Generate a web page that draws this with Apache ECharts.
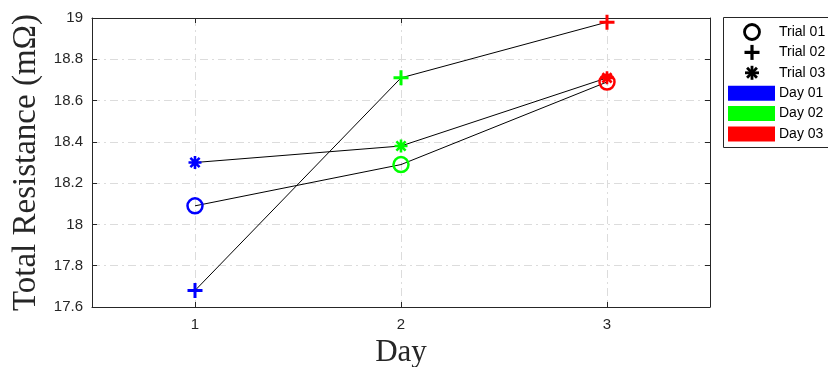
<!DOCTYPE html>
<html>
<head>
<meta charset="utf-8">
<style>
  html, body { margin: 0; padding: 0; background: #fff; }
  #chart { width: 828px; height: 367px; }
</style>
<script src="https://cdn.jsdelivr.net/npm/echarts@6/dist/echarts.min.js"></script>
</head>
<body>
<div id="chart"></div>
<script>
// Measurement days and total resistance (mΩ) per trial
const days = [1, 2, 3];
const dayLabels = ['Day 01', 'Day 02', 'Day 03'];
const dayColors = ['#0000ff', '#00ff00', '#ff0000'];
const trialNames = ['Trial 01', 'Trial 02', 'Trial 03'];
const trial01 = [18.09, 18.29, 18.69];
const trial02 = [17.68, 18.71, 18.98];
const trial03 = [18.30, 18.38, 18.71];
const yTicks = { min: 17.6, max: 19, step: 0.2 };

const AXIS = '#262626';
const GRIDLINE = '#dcdcdc';
const SANS = 'Liberation Sans, Arial, Helvetica, sans-serif';
const SERIF = 'Liberation Serif, Times New Roman, serif';

const markerShapes = {
  circle: 'circle',
  plus: 'path://M0,-10L0,10M-10,0L10,0',
  star: 'path://M0,-10L0,10M-10,0L10,0M-7.07,-7.07L7.07,7.07M-7.07,7.07L7.07,-7.07'
};

function trialSeries(name, values, shape, size, width) {
  return {
    name: name,
    type: 'line',
    data: values.map((v, i) => ({
      value: [days[i], v],
      itemStyle: { color: 'rgba(0,0,0,0)', borderColor: dayColors[i], borderWidth: width }
    })),
    symbol: markerShapes[shape],
    symbolSize: size,
    showSymbol: true,
    lineStyle: { color: '#000', width: 1 },
    emphasis: { disabled: true },
    animation: false,
    z: 3
  };
}

const tickStyle = { show: true, inside: true, length: 5, lineStyle: { color: AXIS, width: 1 } };
const axisLine = { show: true, lineStyle: { color: AXIS, width: 1 } };
const dashDot = { show: true, lineStyle: { color: GRIDLINE, width: 1, type: [8, 4, 2, 4] } };

const chart = echarts.init(document.getElementById('chart'));

// Boxed key: marker shapes for trials, colour swatches for days
const legendX = 723, legendY = 17, rowH = 20.4, firstRow = 32;
const legendItems = [];
legendItems.push({
  type: 'rect', shape: { x: legendX + 0.5, y: legendY + 0.5, width: 120, height: 130 },
  style: { fill: '#fff', stroke: AXIS, lineWidth: 1 }, z: 10
});
const mx = 752;
trialNames.forEach((t, i) => {
  const cy = firstRow + i * rowH;
  if (i === 0) {
    legendItems.push({ type: 'circle', shape: { cx: mx, cy: cy, r: 7.5 },
      style: { fill: 'none', stroke: '#000', lineWidth: 2.8 }, z: 11 });
  } else {
    const r = i === 1 ? 7.5 : 7;
    const arms = i === 1 ? [[0, 1]] : [[0, 1], [0.7071, 0.7071], [0.7071, -0.7071]];
    const segs = [[1, 0]].concat(arms);
    segs.forEach(([dx, dy]) => {
      legendItems.push({ type: 'line',
        shape: { x1: mx - dx * r, y1: cy - dy * r, x2: mx + dx * r, y2: cy + dy * r },
        style: { stroke: '#000', lineWidth: i === 1 ? 3.2 : 2.8 }, z: 11 });
    });
  }
  legendItems.push({ type: 'text', x: 779, y: cy,
    style: { text: t, fill: '#000', font: '14px ' + SANS, verticalAlign: 'middle' }, z: 11 });
});
dayLabels.forEach((d, i) => {
  const cy = firstRow + (i + 3) * rowH;
  legendItems.push({ type: 'rect', shape: { x: 728, y: cy - 7.5, width: 47, height: 15 },
    style: { fill: dayColors[i] }, z: 11 });
  legendItems.push({ type: 'text', x: 779, y: cy,
    style: { text: d, fill: '#000', font: '14px ' + SANS, verticalAlign: 'middle' }, z: 11 });
});

chart.setOption({
  animation: false,
  backgroundColor: '#fff',
  grid: {
    left: 92, top: 18, right: 118, bottom: 60,
    show: false, containLabel: false, outerBoundsMode: 'none'
  },
  xAxis: [{
    type: 'value', min: 0.5, max: 3.5, position: 'bottom',
    name: 'Day', nameLocation: 'middle', nameGap: 29,
    nameTextStyle: { fontFamily: SERIF, fontSize: 31, color: AXIS },
    axisLine: axisLine,
    axisTick: Object.assign({ customValues: days }, tickStyle),
    axisLabel: { customValues: days, color: AXIS, fontFamily: SANS, fontSize: 15, margin: 10 },
    splitLine: dashDot
  }, {
    type: 'value', min: 0.5, max: 3.5, position: 'top',
    axisLine: axisLine,
    axisTick: Object.assign({ customValues: days }, tickStyle),
    axisLabel: { show: false }, splitLine: { show: false }
  }],
  yAxis: [{
    type: 'value', min: yTicks.min, max: yTicks.max, interval: yTicks.step, position: 'left',
    name: 'Total Resistance (mΩ)', nameLocation: 'middle', nameGap: 48,
    nameTextStyle: { fontFamily: SERIF, fontSize: 33, color: AXIS },
    axisLine: axisLine,
    axisTick: tickStyle,
    axisLabel: {
      color: AXIS, fontFamily: SANS, fontSize: 15, margin: 9,
      formatter: v => String(parseFloat(v.toFixed(1)))
    },
    splitLine: dashDot
  }, {
    type: 'value', min: yTicks.min, max: yTicks.max, interval: yTicks.step, position: 'right',
    axisLine: axisLine, axisTick: tickStyle,
    axisLabel: { show: false }, splitLine: { show: false }
  }],
  series: [
    trialSeries(trialNames[0], trial01, 'circle', 15, 2.5),
    trialSeries(trialNames[1], trial02, 'plus', 15, 3),
    trialSeries(trialNames[2], trial03, 'star', 13, 2.6)
  ],
  graphic: legendItems
});
</script>
</body>
</html>
